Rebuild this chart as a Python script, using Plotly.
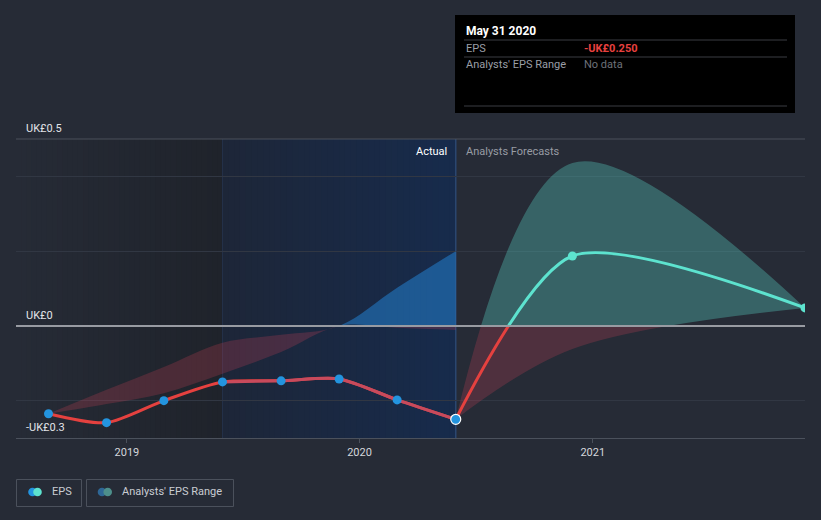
import pandas as pd
import plotly.graph_objects as go

# ---------------- data ----------------
eps_dates = ['2018-08-31', '2018-11-30', '2019-02-28', '2019-05-31',
             '2019-08-31', '2019-11-30', '2020-02-29', '2020-05-31']
eps_values = [-0.235, -0.259, -0.200, -0.150, -0.147, -0.142, -0.198, -0.250]

past_range_high = [-0.235, -0.171, -0.110, -0.045, -0.024, 0.000, 0.102, 0.200]
past_range_low = [-0.235, -0.209, -0.180, -0.128, -0.070, 0.000, -0.005, -0.011]

fc_dates = ['2020-05-31', '2020-11-30', '2021-11-30']
fc_eps = [-0.250, 0.187, 0.048]
fc_high = [-0.250, 0.436, 0.048]
fc_low = [-0.250, -0.062, 0.048]

x_ticks = ['2019-01-01', '2020-01-01', '2021-01-01']
x_tick_labels = ['2019', '2020', '2021']
y_labels = ['UK£0.5', 'UK£0', '-UK£0.3']
y_label_vals = [0.5, 0.0, -0.3]

# ---------------- layout helpers ----------------
W, H = 821, 520
L, R, T, B = 16, 16, 139, 82
PW, PH = W - L - R, H - T - B
Y_MIN, Y_MAX = -0.3, 0.5
ZF = -Y_MIN / (Y_MAX - Y_MIN)  # paper fraction of zero line
X_RANGE = ['2018-07-11', '2021-11-30']
FONT = 'Roboto, sans-serif'
BAND_SMOOTH = 1.0
LINE_SMOOTH = 0.75


def px(x):
    return (x - L) / PW


def py(y):
    return (H - B - y) / PH


def yfrac(v):
    return (v - Y_MIN) / (Y_MAX - Y_MIN)


RED = '#e5413f'
RED_DIM = '#c84a5c'
TEAL = '#5de3cf'
BLUE = '#2394df'
RED_FILL = 'rgba(228,70,90,0.22)'
TEAL_FILL = 'rgba(90,215,200,0.33)'
BLUE_FILL = 'rgba(35,135,220,0.5)'

fig = go.Figure()


def band(dates, low, high, fillcolor, yax):
    fig.add_trace(go.Scatter(x=dates, y=low, mode='lines', yaxis=yax,
                             line=dict(width=0, shape='spline', smoothing=BAND_SMOOTH),
                             hoverinfo='skip'))
    fig.add_trace(go.Scatter(x=dates, y=high, mode='lines', yaxis=yax, fill='tonexty',
                             fillcolor=fillcolor,
                             line=dict(width=0, shape='spline', smoothing=BAND_SMOOTH),
                             hoverinfo='skip'))


def line(x, y, color, yax, width=3):
    fig.add_trace(go.Scatter(x=x, y=y, mode='lines', yaxis=yax,
                             line=dict(color=color, width=width, shape='spline',
                                       smoothing=LINE_SMOOTH),
                             hoverinfo='skip'))


# past analysts' range (below zero red, above zero blue)
band(eps_dates, past_range_low, past_range_high, RED_FILL, 'y')
band(eps_dates, past_range_low, past_range_high, BLUE_FILL, 'y2')
# forecast range (below zero red, above zero teal)
band(fc_dates, fc_low, fc_high, RED_FILL, 'y')
band(fc_dates, fc_low, fc_high, TEAL_FILL, 'y2')

# actual EPS line
line(eps_dates, eps_values, RED, 'y')
line(eps_dates[3:], eps_values[3:], RED_DIM, 'y')
# forecast EPS line
line(fc_dates, fc_eps, RED, 'y')
line(fc_dates, fc_eps, TEAL, 'y2')
# markers
fig.add_trace(go.Scatter(x=eps_dates[:-1], y=eps_values[:-1], mode='markers', yaxis='y',
                         marker=dict(color=BLUE, size=9, line=dict(width=0)), hoverinfo='skip'))
fig.add_trace(go.Scatter(x=eps_dates[-1:], y=eps_values[-1:], mode='markers', yaxis='y',
                         marker=dict(color=BLUE, size=10, line=dict(width=1.2, color='white')),
                         hoverinfo='skip'))
fig.add_trace(go.Scatter(x=fc_dates[1:], y=fc_eps[1:], mode='markers', yaxis='y2',
                         marker=dict(color=TEAL, size=9, line=dict(width=0)), hoverinfo='skip'))

shapes = []


def mix(c0, c1, t):
    a = [int(c0[i:i + 2], 16) for i in (1, 3, 5)]
    b = [int(c1[i:i + 2], 16) for i in (1, 3, 5)]
    return 'rgb(%d,%d,%d)' % tuple(round(a[k] + (b[k] - a[k]) * t) for k in range(3))


def gradient(x0, x1, c0, c1, n=40):
    ts = pd.date_range(pd.Timestamp(x0), pd.Timestamp(x1), periods=n + 1)
    for i in range(n):
        shapes.append(dict(type='rect', xref='x', yref='paper',
                           x0=ts[i].strftime('%Y-%m-%d %H:%M:%S'), x1=x1, y0=0, y1=1,
                           fillcolor=mix(c0, c1, i / (n - 1)), line=dict(width=0),
                           layer='below'))


gradient(X_RANGE[0], eps_dates[3], '#262b36', '#1f232b')
gradient(eps_dates[3], eps_dates[-1], '#1d2638', '#172b4c')

# boundary of past-year region
shapes.append(dict(type='line', xref='x', yref='paper', x0=eps_dates[3], x1=eps_dates[3],
                   y0=0, y1=1, line=dict(color='#243149', width=1), layer='below'))
# divider line between actual and forecast
shapes.append(dict(type='line', xref='x', yref='paper', x0=eps_dates[-1], x1=eps_dates[-1],
                   y0=0, y1=1, line=dict(color='#2a4670', width=1.5), layer='below'))
# top line at 0.5
shapes.append(dict(type='line', xref='paper', yref='paper', x0=0, x1=1, y0=1, y1=1,
                   line=dict(color='#4a505b', width=1.2), layer='below'))
# zero line
shapes.append(dict(type='line', xref='paper', yref='paper', x0=0, x1=1, y0=ZF, y1=ZF,
                   line=dict(color='#989ba2', width=2), layer='above'))

annotations = []
# y labels
for lab, v in zip(y_labels, y_label_vals):
    annotations.append(dict(text=lab, xref='paper', yref='paper', x=px(24), y=yfrac(v),
                            xanchor='left', yanchor='bottom', yshift=2, showarrow=False,
                            font=dict(family=FONT, size=11, color='#e2e4e8')))

annotations.append(dict(text='Actual', xref='x', yref='paper', x=eps_dates[-1], y=py(151),
                        xanchor='right', xshift=-7, yanchor='middle', showarrow=False,
                        font=dict(family=FONT, size=11, color='#ffffff')))
annotations.append(dict(text='Analysts Forecasts', xref='x', yref='paper', x=eps_dates[-1],
                        y=py(151), xanchor='left', xshift=8, yanchor='middle', showarrow=False,
                        font=dict(family=FONT, size=11, color='#989ca4')))

# tooltip box
shapes.append(dict(type='rect', xref='paper', yref='paper', x0=px(455), x1=px(795),
                   y0=py(113), y1=py(15), fillcolor='#000000', line=dict(width=0),
                   layer='above'))
for yy in (40, 57, 106):
    shapes.append(dict(type='line', xref='paper', yref='paper', x0=px(464), x1=px(787),
                       y0=py(yy), y1=py(yy), line=dict(color='#3a3d43', width=1),
                       layer='above'))
last_date = pd.Timestamp(eps_dates[-1])
tip_title = last_date.strftime('%b %d %Y')
tip_val = ('-' if eps_values[-1] < 0 else '') + 'UK£%.3f' % abs(eps_values[-1])
annotations += [
    dict(text='<b>%s</b>' % tip_title, x=px(464), y=py(31), font=dict(size=12, color='#ffffff')),
    dict(text='EPS', x=px(464), y=py(48), font=dict(size=11, color='#9a9ea6')),
    dict(text='<b>%s</b>' % tip_val, x=px(582), y=py(48), font=dict(size=11, color='#e8413f')),
    dict(text="Analysts' EPS Range", x=px(464), y=py(65), font=dict(size=11, color='#9a9ea6')),
    dict(text='No data', x=px(582), y=py(65), font=dict(size=11, color='#6e727a')),
]
for a in annotations[-5:]:
    a.update(xref='paper', yref='paper', xanchor='left', yanchor='middle', showarrow=False)
    a['font']['family'] = FONT

# legend
shapes.append(dict(type='rect', xref='paper', yref='paper', x0=px(16.5), x1=px(81.5),
                   y0=py(506.5), y1=py(479.5), line=dict(color='#4b515c', width=1)))
shapes.append(dict(type='rect', xref='paper', yref='paper', x0=px(86.5), x1=px(233.5),
                   y0=py(506.5), y1=py(479.5), line=dict(color='#4b515c', width=1)))
for cx, col in ((32.5, BLUE), (37.5, TEAL), (102, '#2e6796'), (107.7, '#4d8f8b')):
    shapes.append(dict(type='circle', xref='paper', yref='paper', x0=px(cx - 4.3),
                       x1=px(cx + 4.3), y0=py(492 + 4.3), y1=py(492 - 4.3),
                       fillcolor=col, line=dict(width=0)))
annotations.append(dict(text='EPS', xref='paper', yref='paper', x=px(50), y=py(492),
                        xanchor='left', yanchor='middle', showarrow=False,
                        font=dict(family=FONT, size=11, color='#c9cdd3')))
annotations.append(dict(text="Analysts' EPS Range", xref='paper', yref='paper', x=px(120),
                        y=py(492), xanchor='left', yanchor='middle', showarrow=False,
                        font=dict(family=FONT, size=11, color='#c9cdd3')))

fig.update_layout(
    width=W, height=H, margin=dict(l=L, r=R, t=T, b=B),
    paper_bgcolor='#262b36', plot_bgcolor='rgba(0,0,0,0)',
    showlegend=False, hovermode=False,
    shapes=shapes, annotations=annotations,
    xaxis=dict(type='date', range=X_RANGE, tickvals=x_ticks, ticktext=x_tick_labels,
               showgrid=False, zeroline=False, showline=True, linecolor='#4b515c',
               linewidth=1, ticks='outside', ticklen=4, tickcolor='#4b515c',
               tickfont=dict(family=FONT, size=11, color='#d4d7dc'), anchor='y',
               fixedrange=True),
    yaxis=dict(domain=[0, ZF], range=[Y_MIN, 0], tickvals=[-0.2], showticklabels=False,
               gridcolor='#313743', gridwidth=1, zeroline=False, fixedrange=True),
    yaxis2=dict(domain=[ZF, 1], range=[0, Y_MAX], tickvals=[0.2, 0.4], showticklabels=False,
                gridcolor='#313743', gridwidth=1, zeroline=False, anchor='x',
                fixedrange=True),
)

fig.write_html('out.html')
